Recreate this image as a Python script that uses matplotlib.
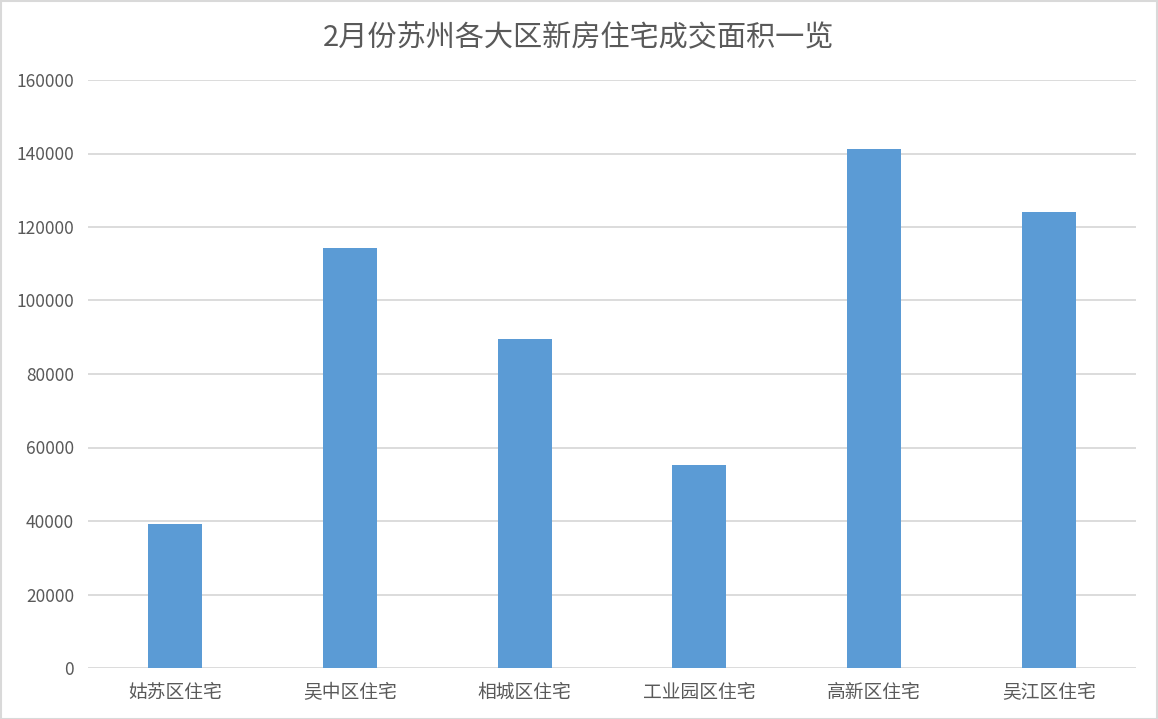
import matplotlib
matplotlib.use("Agg")
import matplotlib.pyplot as plt
from matplotlib.patches import Rectangle

plt.rcParams['font.family'] = ['Noto Sans CJK SC', 'DejaVu Sans']

categories = ["姑苏区住宅", "吴中区住宅", "相城区住宅", "工业园区住宅", "高新区住宅", "吴江区住宅"]
values = [39300, 114400, 89500, 55300, 141100, 124100]
yticks = [0, 20000, 40000, 60000, 80000, 100000, 120000, 140000, 160000]
title = "2月份苏州各大区新房住宅成交面积一览"

text_color = "#595959"
grid_color = "#D9D9D9"
bar_color = "#5B9BD5"

W, H = 1158, 719
fig = plt.figure(figsize=(W / 100, H / 100), dpi=100)
ax = fig.add_axes([88 / W, (H - 668) / H, (1136 - 88) / W, (668 - 80) / H])

x = list(range(len(categories)))
ax.bar(x, values, width=0.31, color=bar_color, zorder=3)

ax.set_xlim(-0.5, len(categories) - 0.5)
ax.set_ylim(0, 160000)
ax.set_yticks(yticks)
ax.set_yticklabels([str(v) for v in yticks])
ax.set_xticks(x)
ax.set_xticklabels(categories)

for s in ax.spines.values():
    s.set_visible(False)
ax.grid(axis='y', color=grid_color, linewidth=1.3, zorder=0)
ax.tick_params(axis='both', length=0, colors=text_color)
ax.tick_params(axis='y', pad=10, labelsize=12.5)
ax.tick_params(axis='x', pad=10, labelsize=13.5)

fig.text(0.5, (H - 37) / H, title, ha='center', va='center', fontsize=21, color=text_color)

fig.patches.append(Rectangle((0.5 / W, 0.5 / H), 1 - 1.5 / W, 1 - 1.5 / H, transform=fig.transFigure,
                             fill=False, edgecolor=grid_color, linewidth=1.5))

fig.savefig("out.png", dpi=100, facecolor='white')
